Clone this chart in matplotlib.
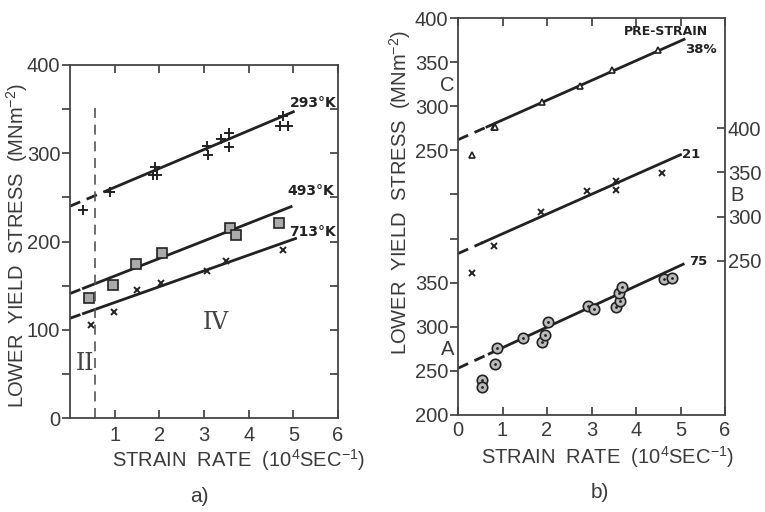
import numpy as np
import matplotlib.pyplot as plt

plt.rcParams['font.family'] = ['Liberation Sans', 'DejaVu Sans']
plt.rcParams['mathtext.fontset'] = 'custom'
plt.rcParams['mathtext.rm'] = 'Liberation Sans'

# ---- panel a) : yield stress vs strain rate at three temperatures ----
x_293 = [0.3, 0.9, 1.86, 1.95, 1.9, 3.07, 3.1, 3.38, 3.57, 3.57, 4.77, 4.71, 4.89]
y_293 = [236, 256, 275, 275, 284, 308, 298, 316, 323, 307, 342, 331, 331]
x_493 = [0.43, 0.97, 1.48, 2.06, 3.59, 3.72, 4.69]
y_493 = [136, 151, 175, 187, 215, 207, 221]
x_713 = [0.47, 0.99, 1.5, 2.04, 3.07, 3.5, 4.77]
y_713 = [105, 120, 145, 153, 167, 178, 190]

# fitted lines: intercept, slope, end of dashed part, end of line
fit_a = {
    '293°K': (240, 21.4, 0.9, 5.0),
    '493°K': (141, 19.9, 0.3, 4.95),
    '713°K': (113, 17.9, 0.3, 5.05),
}
label_pos_a = {'293°K': (5.45, 357), '493°K': (5.38, 257), '713°K': (5.42, 211)}

# ---- panel b) : three pre-strains, each on its own offset scale ----
x_38 = [0.31, 0.81, 0.84, 1.89, 2.75, 3.47, 4.49]
y_38 = [245, 276, 277, 305, 323, 341, 364]          # scale C
x_21 = [0.32, 0.81, 1.87, 2.89, 3.55, 3.55, 4.59]
y_21 = [236, 267, 305, 329, 340, 330, 349]          # scale B
x_75 = [0.55, 0.55, 0.83, 0.88, 1.46, 1.89, 1.95, 2.02, 2.92, 3.06,
        3.55, 3.64, 3.62, 3.68, 4.63, 4.82]
y_75 = [240, 232, 258, 276, 287, 283, 291, 305, 324, 320,
        322, 329, 338, 345, 354, 355]               # scale A

fit_b = {
    '38%': (262, 22.4, 0.65, 5.08),
    '21': (258, 22.4, 0.55, 5.0),
    '75': (253, 23.3, 0.7, 5.06),
}
# offsets that put scales C, B and A on a shared axis coordinate
off_C, off_B, off_A = 250, 125, 0

left_ticks_b = [200, 250, 300, 350, 400, 450, 500, 550, 600, 650]
left_labels_b = ['200', '250', '300', '350', '', '', '250', '300', '350', '400']
right_ticks_b = [375, 425, 475, 525]
right_labels_b = ['250', '300', '350', '400']

ink = '#222222'
txt = '#3a3a3a'
ylab = r'LOWER  YIELD  STRESS  (MNm$^{-2}$)'
xlab = r'STRAIN  RATE  (10$^4$SEC$^{-1}$)'
tick_fs = 14.5
lab_fs = 14.5


def draw_fit(ax, b0, k, xd, xe, off=0):
    xs = np.array([0, xd])
    ax.plot(xs, b0 + k * xs + off, color=ink, lw=2, ls=(0, (4, 2.5)))
    xs = np.array([xd, xe])
    ax.plot(xs, b0 + k * xs + off, color=ink, lw=2)


def style_frame(ax):
    for s in ax.spines.values():
        s.set_linewidth(1.3)
        s.set_color('#444444')


fig = plt.figure(figsize=(7.65, 5.12), dpi=100)

# ------------------------- a) -------------------------
ax = fig.add_axes([70 / 765, 1 - 418 / 512, 268 / 765, 353 / 512])
style_frame(ax)
ax.set_xlim(0, 6)
ax.set_ylim(0, 400)

for name, (b0, k, xd, xe) in fit_a.items():
    draw_fit(ax, b0, k, xd, xe)
    ax.text(*label_pos_a[name], name, fontsize=10, fontweight='bold',
            ha='center', va='center', color=ink, family='DejaVu Sans')

ax.plot(x_293, y_293, '+', color=ink, ms=6.5, mew=1.4)
ax.plot(x_493, y_493, 's', mfc='#aaaaaa', mec=ink, ms=6.5, mew=1.2)
ax.plot(x_713, y_713, 'x', color=ink, ms=4, mew=1.4)

ax.plot([0.55, 0.55], [0, 357], color='#555555', lw=1.2, ls=(0, (6, 4)))
ax.text(0.34, 62, 'II', fontsize=17, family='DejaVu Serif', ha='center', va='center', color='#444444')
ax.text(3.27, 108, 'IV', fontsize=17, family='DejaVu Serif', ha='center', va='center', color='#444444')

ax.set_xticks([1, 2, 3, 4, 5, 6])
ax.set_yticks([0, 100, 200, 300, 400])
ax.set_yticks([50, 150, 250, 350], minor=True)
ax.tick_params(axis='x', direction='in', top=True, length=6, width=1.2,
               labelsize=tick_fs, colors=txt, pad=6)
ax.tick_params(axis='y', which='both', direction='out', length=6, width=1.2,
               labelsize=tick_fs, colors=txt, pad=1)
ax.tick_params(axis='y', which='minor', length=6)

axr = ax.secondary_yaxis('right')
axr.set_yticks([50, 100, 150, 200, 250, 300, 350])
axr.tick_params(direction='in', length=6, width=1.2, labelright=False, colors=txt)
axr.spines['right'].set_visible(False)

ax.set_ylabel(ylab, fontsize=lab_fs, color=txt)
ax.yaxis.set_label_coords(-0.15, 0.49)
ax.set_xlabel(xlab, fontsize=lab_fs, color=txt)
ax.xaxis.set_label_coords(0.627, -0.082)
fig.text(199 / 765, 1 - 497 / 512, 'a)', fontsize=15, ha='center', va='center', color=txt)

# ------------------------- b) -------------------------
bx = fig.add_axes([458 / 765, 1 - 415 / 512, 267 / 765, 397 / 512])
style_frame(bx)
bx.set_xlim(0, 6)
bx.set_ylim(200, 650)

for name, off in [('38%', off_C), ('21', off_B), ('75', off_A)]:
    b0, k, xd, xe = fit_b[name]
    draw_fit(bx, b0, k, xd, xe, off)

bx.plot(x_38, np.array(y_38) + off_C, '^', mfc='white', mec=ink, ms=5, mew=1.2)
bx.plot(x_21, np.array(y_21) + off_B, 'x', color=ink, ms=4, mew=1.4)
bx.plot(x_75, np.array(y_75) + off_A, 'o', mfc='#bbbbbb', mec=ink, ms=7.5, mew=1.2)
bx.plot(x_75, np.array(y_75) + off_A, '.', color=ink, ms=2)

bx.text(4.67, 376 + off_C + 9, 'PRE-STRAIN', fontsize=9, fontweight='bold',
        ha='center', va='center', color=ink, family='DejaVu Sans')
bx.text(5.45, 364 + off_C, '38%', fontsize=9.5, fontweight='bold',
        ha='center', va='center', color=ink, family='DejaVu Sans')
bx.text(5.23, 370 + off_B, '21', fontsize=9.5, fontweight='bold',
        ha='center', va='center', color=ink, family='DejaVu Sans')
bx.text(5.4, 374 + off_A, '75', fontsize=9.5, fontweight='bold',
        ha='center', va='center', color=ink, family='DejaVu Sans')

bx.set_xticks([0, 1, 2, 3, 4, 5, 6])
bx.set_yticks(left_ticks_b)
bx.set_yticklabels(left_labels_b)
bx.tick_params(axis='x', direction='in', top=True, length=6, width=1.2,
               labelsize=tick_fs, colors=txt, pad=4)
bx.tick_params(axis='y', direction='out', length=6, width=1.2,
               labelsize=tick_fs, colors=txt, pad=1)

bxr = bx.secondary_yaxis('right')
bxr.set_yticks(right_ticks_b)
bxr.set_yticklabels(right_labels_b)
bxr.tick_params(direction='in', length=6, width=1.2, labelsize=tick_fs,
                colors=txt, pad=2)
bxr.spines['right'].set_visible(False)

bx.text(-0.08, 274, 'A', fontsize=tick_fs, ha='right', va='center', color=txt)
bx.text(-0.08, 574, 'C', fontsize=tick_fs, ha='right', va='center', color=txt)
bx.text(6.12, 449, 'B', fontsize=tick_fs, ha='left', va='center', color=txt)

bx.set_ylabel(ylab, fontsize=lab_fs, color=txt)
bx.yaxis.set_label_coords(-0.168, 0.56)
bx.set_xlabel(xlab, fontsize=lab_fs, color=txt)
bx.xaxis.set_label_coords(0.56, -0.073)
fig.text(600 / 765, 1 - 493 / 512, 'b)', fontsize=15, ha='center', va='center', color=txt)

fig.savefig('out.png', dpi=100)
